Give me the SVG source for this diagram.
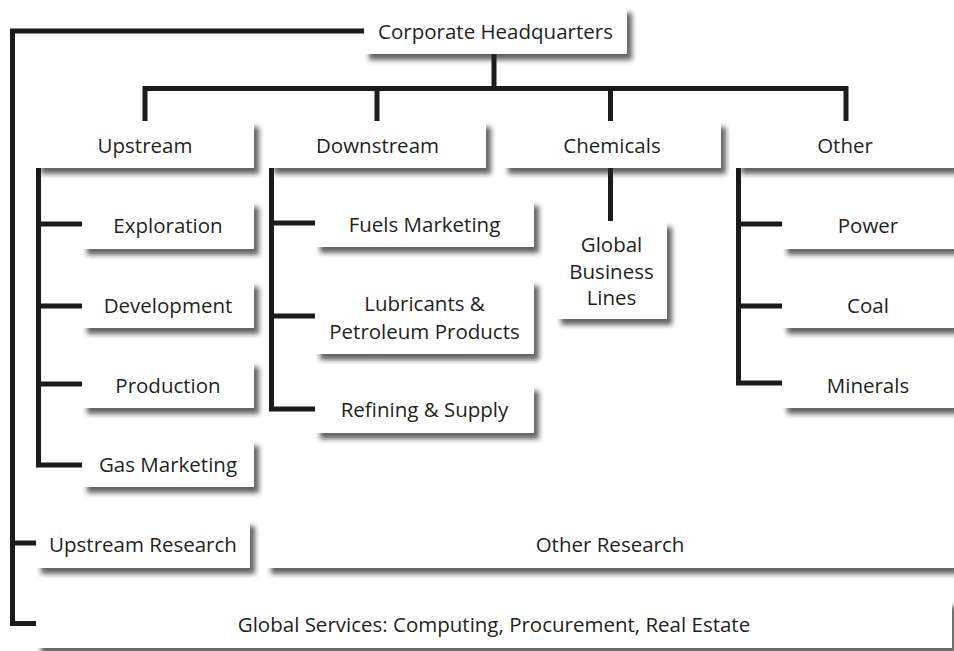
<svg xmlns="http://www.w3.org/2000/svg" width="954" height="651" viewBox="0 0 954 651">
<defs>
<filter id="sh" x="-10%" y="-20%" width="130%" height="160%">
<feDropShadow dx="5" dy="6" stdDeviation="2.5" flood-color="#222" flood-opacity="0.7"/>
</filter>
<style>
.box{fill:#fff;filter:url(#sh)}
.t{font-family:"Open Sans","Liberation Sans",sans-serif;font-size:20.5px;fill:#231f20;text-anchor:middle;dominant-baseline:central}
.c{fill:none;stroke:#1c1a1b;stroke-width:5;stroke-linejoin:miter;stroke-linecap:butt}
</style>
</defs>
<rect width="954" height="651" fill="#fff"/>
<g id="connectors">
<path class="c" d="M364 31 H12.5 V623.5 H36"/>
<path class="c" d="M12.5 543 H36"/>
<path class="c" d="M494 54 V88"/>
<path class="c" d="M145 121 V88.5 H846 V121"/>
<path class="c" d="M377 88 V121"/>
<path class="c" d="M610.5 88 V121"/>
<path class="c" d="M38.5 168 V465 H82"/>
<path class="c" d="M38.5 224 H82 M38.5 306 H82 M38.5 384 H82"/>
<path class="c" d="M271.5 168 V409 H315"/>
<path class="c" d="M271.5 223 H315 M271.5 316 H315"/>
<path class="c" d="M610.5 168 V221"/>
<path class="c" d="M738.5 168 V383 H782"/>
<path class="c" d="M738.5 224 H782 M738.5 306 H782"/>
</g>
<g id="hq"><rect class="box" x="364" y="7" width="263" height="47"/><text class="t" x="495.5" y="30.5">Corporate Headquarters</text></g>
<g id="upstream"><rect class="box" x="36" y="121" width="218" height="47"/><text class="t" x="145" y="144.5">Upstream</text></g>
<g id="downstream"><rect class="box" x="269" y="121" width="217" height="47"/><text class="t" x="377.5" y="144.5">Downstream</text></g>
<g id="chemicals"><rect class="box" x="503" y="121" width="218" height="47"/><text class="t" x="612" y="144.5">Chemicals</text></g>
<g id="other"><rect class="box" x="736" y="121" width="218" height="47"/><text class="t" x="845" y="144.5">Other</text></g>
<g id="exploration"><rect class="box" x="82" y="201" width="172" height="48"/><text class="t" x="168" y="225">Exploration</text></g>
<g id="development"><rect class="box" x="82" y="281" width="172" height="47"/><text class="t" x="168" y="304.5">Development</text></g>
<g id="production"><rect class="box" x="82" y="361" width="172" height="47"/><text class="t" x="168" y="384.5">Production</text></g>
<g id="gas-marketing"><rect class="box" x="82" y="440" width="172" height="47"/><text class="t" x="168" y="463.5">Gas Marketing</text></g>
<g id="fuels-marketing"><rect class="box" x="315" y="200" width="219" height="47"/><text class="t" x="424.5" y="223.5">Fuels Marketing</text></g>
<g id="lubricants"><rect class="box" x="315" y="280" width="219" height="74"/><text class="t" x="424.5" y="303">Lubricants &amp;</text><text class="t" x="424.5" y="330.5">Petroleum Products</text></g>
<g id="refining"><rect class="box" x="315" y="385" width="219" height="48"/><text class="t" x="424.5" y="409">Refining &amp; Supply</text></g>
<g id="global-business-lines"><rect class="box" x="556" y="221" width="111" height="98"/><text class="t" x="611.5" y="244">Global</text><text class="t" x="611.5" y="270.5">Business</text><text class="t" x="611.5" y="297">Lines</text></g>
<g id="power"><rect class="box" x="782" y="201" width="172" height="48"/><text class="t" x="868" y="225">Power</text></g>
<g id="coal"><rect class="box" x="782" y="281" width="172" height="47"/><text class="t" x="868" y="304.5">Coal</text></g>
<g id="minerals"><rect class="box" x="782" y="361" width="172" height="47"/><text class="t" x="868" y="384.5">Minerals</text></g>
<g id="upstream-research"><rect class="box" x="36" y="520" width="214" height="48"/><text class="t" x="143" y="544">Upstream Research</text></g>
<g id="other-research"><rect class="box" x="266" y="520" width="688" height="48"/><text class="t" x="610" y="544">Other Research</text></g>
<g id="global-services"><rect class="box" x="36" y="600" width="916" height="48"/><text class="t" x="494" y="624">Global Services: Computing, Procurement, Real Estate</text></g>
</svg>
